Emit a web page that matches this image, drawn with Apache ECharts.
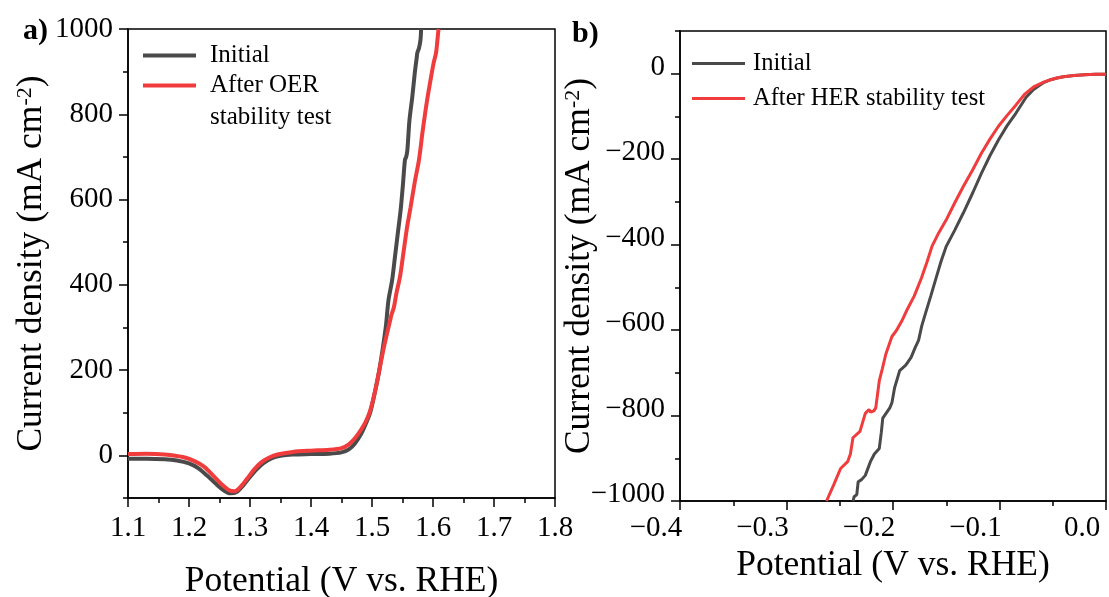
<!DOCTYPE html>
<html>
<head>
<meta charset="utf-8">
<script src="https://cdn.jsdelivr.net/npm/echarts@6/dist/echarts.min.js"></script>
<style>
  html, body { margin: 0; padding: 0; background: #fff; }
  #chart { width: 1109px; height: 597px; }
</style>
</head>
<body>
<div id="chart"></div>
<script>
// (a) OER polarization curves: potential (V vs. RHE) and current density (mA cm-2)
const oerPotentialInitial = [1.100, 1.130, 1.160, 1.180, 1.200, 1.215, 1.230, 1.245, 1.258, 1.268, 1.278, 1.288, 1.298, 1.310, 1.322, 1.335, 1.350, 1.370, 1.400, 1.430, 1.450, 1.462, 1.472, 1.482, 1.490, 1.497, 1.505, 1.512, 1.5225, 1.527, 1.533, 1.538, 1.543, 1.547, 1.551, 1.554, 1.556, 1.558, 1.5614, 1.566, 1.570, 1.5735, 1.5743, 1.577, 1.5795, 1.5805];
const oerCurrentInitial   = [-8, -8, -9, -12, -19, -30, -48, -68, -83, -89, -86, -72, -54, -34, -18, -7, -1, 2, 3, 4, 7, 14, 28, 50, 75, 100, 150, 200, 300, 364, 411, 470, 529, 576, 640, 693, 700, 716, 786, 840, 895, 935, 944, 955, 975, 1000];
const oerPotentialAfter   = [1.100, 1.130, 1.160, 1.190, 1.210, 1.225, 1.240, 1.252, 1.265, 1.275, 1.285, 1.295, 1.307, 1.318, 1.330, 1.345, 1.370, 1.400, 1.430, 1.450, 1.462, 1.472, 1.482, 1.490, 1.497, 1.505, 1.512, 1.519, 1.527, 1.530, 1.532, 1.536, 1.540, 1.546, 1.552, 1.558, 1.563, 1.570, 1.577, 1.583, 1.590, 1.598, 1.601, 1.605, 1.607, 1.609];
const oerCurrentAfter     = [3, 4, 2, -4, -14, -27, -48, -66, -81, -84, -73, -55, -33, -17, -6, 2, 8, 11, 13, 17, 26, 40, 60, 80, 105, 150, 200, 250, 300, 318, 330, 348, 380, 420, 480, 540, 580, 640, 693, 760, 830, 897, 920, 944, 970, 1000];

// (b) HER polarization curves
const herPotentialInitial = [0.000, -0.010, -0.020, -0.030, -0.040, -0.046, -0.052, -0.058, -0.063, -0.068, -0.075, -0.0845, -0.093, -0.101, -0.109, -0.117, -0.125, -0.134, -0.142, -0.150, -0.155, -0.160, -0.1645, -0.1695, -0.173, -0.176, -0.179, -0.183, -0.188, -0.1937, -0.1985, -0.201, -0.203, -0.2096, -0.211, -0.2129, -0.2175, -0.2212, -0.226, -0.2295, -0.2327, -0.234, -0.2365, -0.2375];
const herCurrentInitial   = [-1, -1.5, -2.5, -4, -7, -10, -14, -20, -28, -37, -55, -92, -122, -155, -192, -233, -278, -326, -366, -404, -440, -482, -520, -561, -590, -624, -640, -664, -682, -695, -735, -770, -782, -806, -840, -877, -890, -908, -940, -950, -955, -985, -990, -1000];
const herPotentialAfter   = [0.000, -0.010, -0.020, -0.030, -0.040, -0.046, -0.052, -0.058, -0.063, -0.068, -0.076, -0.0845, -0.093, -0.101, -0.109, -0.117, -0.125, -0.134, -0.142, -0.150, -0.157, -0.1634, -0.168, -0.1733, -0.180, -0.1869, -0.192, -0.1968, -0.201, -0.2067, -0.2100, -0.2129, -0.2162, -0.218, -0.221, -0.2225, -0.224, -0.226, -0.229, -0.231, -0.2376, -0.240, -0.2426, -0.2492, -0.2558, -0.2624];
const herCurrentAfter     = [-1, -1.5, -2.5, -4, -7, -10, -14, -19, -25, -31, -47, -73, -98, -123, -153, -186, -224, -264, -302, -342, -372, -404, -440, -478, -520, -553, -580, -601, -615, -656, -690, -719, -782, -789, -792, -786, -788, -795, -820, -837, -852, -890, -908, -924, -963, -1000];

// Tick positions
const oerYMajorTicks = [0, 200, 400, 600, 800, 1000];
const oerYMinorTicks = [-100, 100, 300, 500, 700, 900];
const herYMajorTicks = [-1000, -800, -600, -400, -200, 0];
const herYMinorTicks = [-900, -700, -500, -300, -100, 100];

const seriesNames = ['Initial', 'After OER stability test', 'After HER stability test'];
const FONT = '"Liberation Serif", "Times New Roman", serif';
const GREY = '#4a4a4a';
const RED = '#f03c3c';

const zip = (xs, ys) => xs.map((x, i) => [x, ys[i]]);
const minus = s => String(s).replace('-', '\u2212');

const tickStyle = { color: '#000', width: 1.5 };
const labelBase = { fontFamily: FONT, fontSize: 29, color: '#000' };
const nameStyle = {
  fontFamily: FONT, fontSize: 35.5, color: '#000',
  rich: { sup: { fontFamily: FONT, fontSize: 22, color: '#000', verticalAlign: 'top' } }
};

function xAxisFor(gridIndex, min, max, labelExtra, nameGap) {
  return {
    gridIndex, type: 'value', min, max, interval: 0.1,
    axisLine: { onZero: false, lineStyle: tickStyle },
    axisTick: { length: 9, lineStyle: tickStyle },
    minorTick: { show: true, splitNumber: 2, length: 5, lineStyle: tickStyle },
    splitLine: { show: false },
    minorSplitLine: { show: false },
    axisLabel: Object.assign({}, labelBase, { showMinLabel: true, showMaxLabel: true }, labelExtra),
    name: 'Potential (V vs. RHE)',
    nameLocation: 'middle',
    nameGap,
    nameMoveOverlap: false,
    nameTextStyle: { fontFamily: FONT, fontSize: 35.5, color: '#000' }
  };
}

function yMajor(gridIndex, min, max, ticks, labelExtra, nameGap) {
  return {
    gridIndex, type: 'value', position: 'left', min, max,
    axisLine: { show: true, onZero: false, lineStyle: tickStyle },
    axisTick: { show: true, length: 9, customValues: ticks, lineStyle: tickStyle },
    axisLabel: Object.assign({}, labelBase, { customValues: ticks, margin: 15, formatter: v => minus(v) }, labelExtra),
    splitLine: { show: false },
    name: 'Current density (mA cm{sup|-2})',
    nameLocation: 'middle',
    nameRotate: 90,
    nameGap,
    nameMoveOverlap: false,
    nameTextStyle: nameStyle
  };
}

function yMinor(gridIndex, min, max, ticks) {
  return {
    gridIndex, type: 'value', position: 'left', min, max,
    axisLine: { show: false, onZero: false },
    axisTick: { show: true, length: 5, customValues: ticks, lineStyle: tickStyle },
    axisLabel: { show: false },
    splitLine: { show: false }
  };
}

const xA = xAxisFor(0, 1.1, 1.8, { margin: 16, formatter: v => v.toFixed(1) }, 66);
const xB = xAxisFor(1, -0.4, 0, {
  margin: 13,
  padding: [0, 48, 0, 0],
  formatter: v => minus((Math.abs(v) < 1e-9 ? 0 : v).toFixed(1))
}, 47);

const chart = echarts.init(document.getElementById('chart'), null, { renderer: 'canvas' });

chart.setOption({
  animation: false,
  backgroundColor: '#fff',
  textStyle: { fontFamily: FONT },
  grid: [
    { left: 128, top: 29, width: 427, height: 469, outerBoundsMode: 'none', containLabel: false, show: true, borderColor: '#000', borderWidth: 1.5, backgroundColor: 'transparent' },
    { left: 680, top: 31, width: 426, height: 470, outerBoundsMode: 'none', containLabel: false, show: true, borderColor: '#000', borderWidth: 1.5, backgroundColor: 'transparent' }
  ],
  xAxis: [xA, xB],
  yAxis: [
    yMajor(0, -100, 1000, oerYMajorTicks, {}, 78),
    yMinor(0, -100, 1000, oerYMinorTicks),
    yMajor(1, -1000, 100, herYMajorTicks, { verticalAlign: 'bottom', lineHeight: 13 }, 82),
    yMinor(1, -1000, 100, herYMinorTicks)
  ],
  legend: [
    {
      left: 143, top: 43, orient: 'vertical', padding: 0,
      icon: 'rect', itemWidth: 53, itemHeight: 4, itemGap: 5,
      selectedMode: false,
      data: [seriesNames[0], seriesNames[1]],
      formatter: n => n === seriesNames[1] ? 'After OER' : n,
      textStyle: { fontFamily: FONT, fontSize: 25, color: '#000', lineHeight: 25, padding: [0, 0, 0, 9] }
    },
    {
      left: 692, top: 51, orient: 'vertical', padding: 0,
      icon: 'rect', itemWidth: 53, itemHeight: 3, itemGap: 10,
      selectedMode: false,
      data: [seriesNames[0], seriesNames[2]],
      textStyle: { fontFamily: FONT, fontSize: 24.5, color: '#000', lineHeight: 24, padding: [0, 0, 0, 3] }
    }
  ],
  graphic: [
    { type: 'text', left: 23, top: 16, style: { text: 'a)', font: 'bold 30px "Liberation Serif", serif', fill: '#000' } },
    { type: 'text', left: 572, top: 19, style: { text: 'b)', font: 'bold 30px "Liberation Serif", serif', fill: '#000' } },
    { type: 'text', left: 210, top: 105, style: { text: 'stability test', font: '25px "Liberation Serif", serif', fill: '#000' } }
  ],
  series: [
    {
      name: seriesNames[0], type: 'line', xAxisIndex: 0, yAxisIndex: 0,
      data: zip(oerPotentialInitial, oerCurrentInitial),
      symbol: 'none', smooth: 0.3, lineStyle: { color: GREY, width: 4 }, itemStyle: { color: GREY }
    },
    {
      name: seriesNames[1], type: 'line', xAxisIndex: 0, yAxisIndex: 0,
      data: zip(oerPotentialAfter, oerCurrentAfter),
      symbol: 'none', smooth: 0.3, lineStyle: { color: RED, width: 4 }, itemStyle: { color: RED }
    },
    {
      name: seriesNames[0], type: 'line', xAxisIndex: 1, yAxisIndex: 2,
      data: zip(herPotentialInitial, herCurrentInitial),
      symbol: 'none', lineStyle: { color: GREY, width: 3 }, itemStyle: { color: GREY }
    },
    {
      name: seriesNames[2], type: 'line', xAxisIndex: 1, yAxisIndex: 2,
      data: zip(herPotentialAfter, herCurrentAfter),
      symbol: 'none', lineStyle: { color: RED, width: 3 }, itemStyle: { color: RED }
    }
  ]
});
</script>
</body>
</html>
